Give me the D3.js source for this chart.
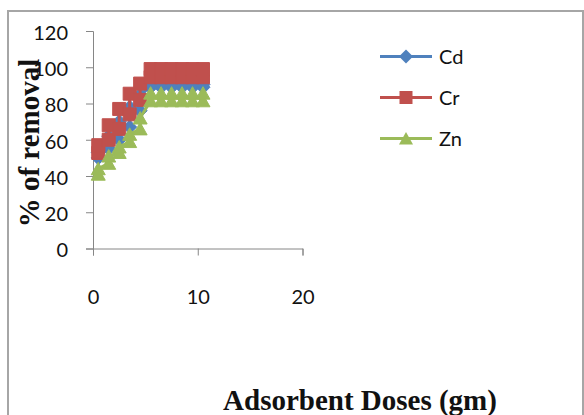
<!DOCTYPE html>
<html>
<head>
<meta charset="utf-8">
<script src="https://cdn.jsdelivr.net/npm/d3@7"></script>
<style>
html,body{margin:0;padding:0;background:#fff;}
svg{display:block;}
</style>
</head>
<body>
<svg id="chart" width="584" height="415"></svg>
<script>
// ---- data (two readings per dose) ----
const doses = [0.5, 1.5, 2.5, 3.5, 4.5, 5.5, 6.5, 7.5, 8.5, 9.5, 10.5];
const cdLow  = [50, 55, 60, 67, 76, 89, 89, 89, 89, 89, 89];
const cdHigh = [53, 62, 70, 78, 85, 90.5, 90.5, 90.5, 90.5, 90.5, 90.5];
const crLow  = [52.7, 60, 66, 74, 82, 94.5, 94.5, 94.5, 94.5, 94.5, 94.5];
const crHigh = [57, 68, 77, 85.4, 91, 99, 99, 99, 99, 99, 99];
const znLow  = [41, 47, 53, 59, 66, 81.5, 81.5, 81.5, 81.5, 81.5, 81.5];
const znHigh = [44, 51, 56, 63, 72, 85.7, 85.7, 85.7, 85.7, 85.7, 85.7];
const seriesNames = ["Cd", "Cr", "Zn"];
const seriesColors = ["#4F81BD", "#C0504D", "#9BBB59"];
const xTicks = [0, 10, 20];
const yTicks = [0, 20, 40, 60, 80, 100, 120];
const xTitle = "Adsorbent Doses (gm)";
const yTitle = "% of removal";

const svg = d3.select("#chart");

// outer border
svg.append("rect").attr("x", 8).attr("y", 11).attr("width", 575).attr("height", 420)
  .attr("fill", "none").attr("stroke", "#a6a6a6").attr("stroke-width", 2);

const x = d3.scaleLinear().domain([0, 20]).range([93, 302.5]);
const y = d3.scaleLinear().domain([0, 120]).range([248.5, 31]);

const axisColor = "#868686";
const tickFont = "Lato, 'Open Sans', sans-serif";

// y axis
const yAxis = svg.append("g").attr("transform", `translate(${x(0)},0)`)
  .call(d3.axisLeft(y).tickValues(yTicks).tickSize(7).tickPadding(18).tickFormat(d3.format("d")));
yAxis.select(".domain").attr("stroke", axisColor);
yAxis.selectAll(".tick line").attr("stroke", axisColor);
yAxis.selectAll(".tick text").attr("font-family", tickFont).attr("font-size", 20)
  .attr("fill", "#111").attr("dy", "0.42em");

// x axis
const xAxis = svg.append("g").attr("transform", `translate(0,${y(0)})`)
  .call(d3.axisBottom(x).tickValues(xTicks).tickSize(7).tickPadding(0).tickFormat(d3.format("d")));
xAxis.select(".domain").attr("stroke", axisColor);
xAxis.selectAll(".tick line").attr("stroke", axisColor);
xAxis.selectAll(".tick text").attr("font-family", tickFont).attr("font-size", 20)
  .attr("fill", "#111").attr("dy", null).attr("y", 55.5);

// series: for each dose both readings, in order
const series = [[cdLow, cdHigh], [crLow, crHigh], [znLow, znHigh]].map((pair, i) => ({
  name: seriesNames[i], color: seriesColors[i],
  points: doses.flatMap((d, j) => [{x: d, y: pair[0][j]}, {x: d, y: pair[1][j]}])
}));

const markerPaths = {
  Cd: "M0,-7L7,0L0,7L-7,0Z",
  Cr: "M-6.5,-6.5H6.5V6.5H-6.5Z",
  Zn: "M0,-6.5L7,6H-7Z"
};

const line = d3.line().x(d => x(d.x)).y(d => y(d.y));

series.forEach(s => {
  const g = svg.append("g");
  g.append("path").datum(s.points).attr("d", line)
    .attr("fill", "none").attr("stroke", s.color).attr("stroke-width", 3);
  g.selectAll("path.m").data(s.points).enter().append("path").attr("class", "m")
    .attr("d", markerPaths[s.name])
    .attr("transform", d => `translate(${x(d.x)},${y(d.y)})`)
    .attr("fill", s.color).attr("stroke", s.color).attr("stroke-width", 1);
});

// legend
const legend = svg.append("g");
series.forEach((s, i) => {
  const ly = 56.5 + i * 41;
  legend.append("line").attr("x1", 380).attr("x2", 432).attr("y1", ly).attr("y2", ly)
    .attr("stroke", s.color).attr("stroke-width", 3);
  legend.append("path").attr("d", markerPaths[s.name])
    .attr("transform", `translate(406,${ly})`).attr("fill", s.color);
  legend.append("text").attr("x", 439).attr("y", ly + 7).text(s.name)
    .attr("font-family", tickFont).attr("font-size", 20).attr("fill", "#111");
});

// axis titles
svg.append("text").attr("transform", "translate(39,143) rotate(-90)")
  .attr("text-anchor", "middle").attr("font-family", "'Liberation Serif', 'Times New Roman', serif")
  .attr("font-weight", "bold").attr("font-size", 29).attr("fill", "#111").text(yTitle);

svg.append("text").attr("x", 360).attr("y", 410)
  .attr("text-anchor", "middle").attr("font-family", "'Liberation Serif', 'Times New Roman', serif")
  .attr("font-weight", "bold").attr("font-size", 29).attr("fill", "#111").text(xTitle);
</script>
</body>
</html>
